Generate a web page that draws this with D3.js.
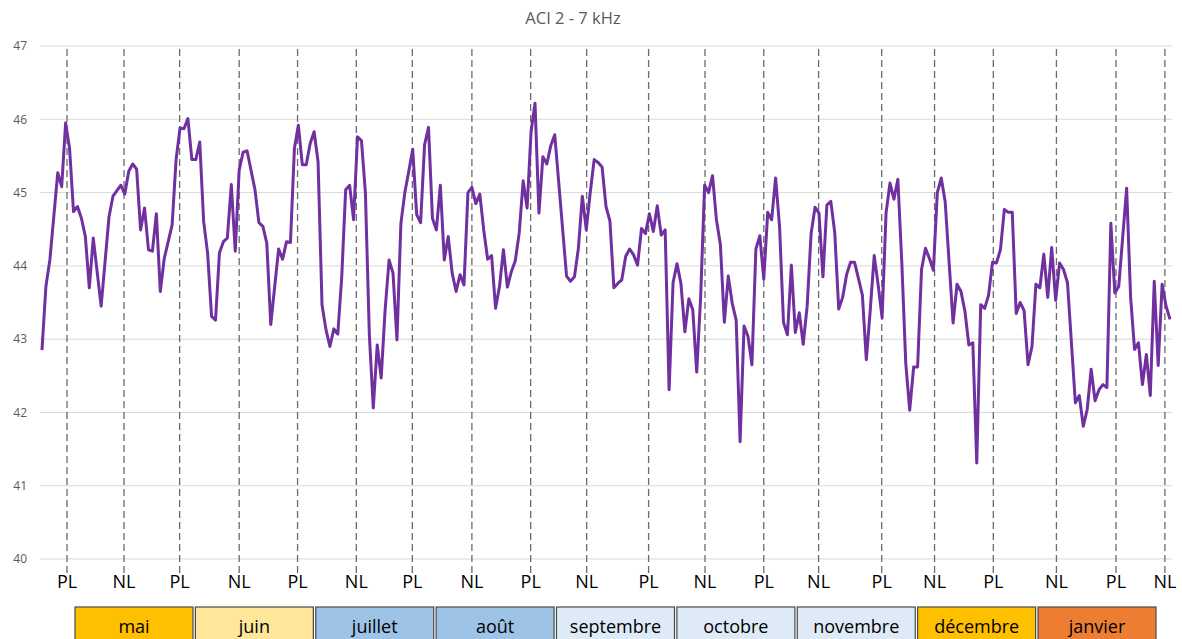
<!DOCTYPE html>
<html>
<head>
<meta charset="utf-8">
<script src="https://cdn.jsdelivr.net/npm/d3@7/dist/d3.min.js"></script>
<style>
  html, body { margin: 0; padding: 0; background: #ffffff; }
  svg { display: block; }
</style>
</head>
<body>
<svg id="chart" width="1182" height="639"></svg>
<script>
// Daily ACI (2 - 7 kHz) values, day 0 = first day of May
const dayIndex = [
  0,1,2,4,5,6,7,8,9,10,11,12,13,15,17,18,20,21,22,23,24,25,26,27,28,29,30,31,33,34,
  35,36,37,38,39,40,41,42,43,44,45,46,47,48,49,50,51,52,54,55,56,57,58,60,61,62,63,64,65,66,
  67,68,69,70,71,72,73,74,75,76,77,78,79,80,81,82,83,84,85,86,87,88,89,90,91,92,93,94,95,96,
  97,98,99,100,101,102,103,104,105,106,107,108,109,110,111,112,113,114,115,116,117,118,119,120,121,122,123,124,125,126,
  127,128,129,130,133,134,135,136,137,138,139,140,141,142,143,144,145,146,147,148,149,150,151,152,153,154,155,156,157,158,
  159,160,161,162,163,164,165,166,167,168,169,170,171,172,173,174,175,176,177,178,179,180,181,182,183,184,185,186,187,188,
  189,190,191,192,193,194,195,196,197,198,199,200,201,202,203,204,205,206,207,208,209,210,211,212,213,214,215,216,217,218,
  219,220,221,222,223,224,225,226,227,228,229,230,231,232,233,234,235,236,237,238,239,240,241,242,243,244,245,246,247,248,
  249,250,251,252,253,254,255,256,257,258,259,260,262,263,264,265,266,267,268,269,270,271,272,273,275,276,277,278,279,280,
  281,282,283,284,285,286
];
const aciValues = [
  42.85,43.72,44.08,45.27,45.08,45.95,45.60,44.74,44.81,44.65,44.40,43.70,44.38,43.45,44.67,44.95,45.10,44.98,45.29,45.39,45.32,44.49,44.79,44.22,44.20,44.71,43.65,44.10,44.56,45.45,
  45.88,45.87,46.01,45.45,45.45,45.69,44.60,44.17,43.31,43.26,44.18,44.33,44.38,45.11,44.20,45.31,45.55,45.57,45.04,44.59,44.54,44.31,43.20,44.23,44.09,44.33,44.32,45.60,45.92,45.38,
  45.38,45.67,45.83,45.42,43.47,43.13,42.90,43.14,43.07,43.85,45.04,45.10,44.63,45.76,45.71,45.00,43.06,42.06,42.92,42.47,43.40,44.08,43.90,42.99,44.58,45.00,45.29,45.59,44.70,44.59,
  45.65,45.89,44.65,44.49,45.10,44.08,44.40,43.90,43.65,43.88,43.74,45.00,45.07,44.85,44.98,44.49,44.09,44.14,43.42,43.72,44.22,43.71,43.92,44.07,44.45,45.16,44.79,45.83,46.22,44.72,
  45.49,45.39,45.64,45.79,43.86,43.79,43.85,44.24,44.95,44.49,45.00,45.45,45.41,45.35,44.81,44.61,43.70,43.76,43.81,44.13,44.23,44.15,44.01,44.51,44.44,44.71,44.47,44.82,44.42,44.49,
  42.31,43.77,44.03,43.76,43.10,43.55,43.40,42.55,43.58,45.10,45.00,45.23,44.63,44.29,43.23,43.86,43.49,43.26,41.60,43.18,43.04,42.65,44.23,44.41,43.82,44.73,44.63,45.20,44.54,43.23,
  43.06,44.01,43.09,43.36,42.93,43.45,44.44,44.80,44.72,43.85,44.83,44.88,44.45,43.41,43.57,43.88,44.05,44.05,43.83,43.60,42.72,43.40,44.14,43.74,43.29,44.72,45.13,44.91,45.18,44.04,
  42.67,42.03,42.62,42.62,43.95,44.24,44.10,43.94,45.00,45.20,44.87,44.04,43.22,43.75,43.65,43.38,42.92,42.95,41.31,43.47,43.42,43.60,44.05,44.04,44.22,44.77,44.73,44.73,43.35,43.50,
  43.39,42.65,42.90,43.75,43.70,44.16,43.57,44.25,43.53,44.04,43.95,43.77,42.13,42.23,41.81,42.04,42.59,42.16,42.31,42.38,42.34,44.58,43.63,43.72,45.06,43.58,42.86,42.95,42.38,42.79,
  42.23,43.79,42.64,43.75,43.45,43.27
];

// Moon phases (PL = pleine lune, NL = nouvelle lune), in days from the start
const phaseLabels = ["PL","NL","PL","NL","PL","NL","PL","NL","PL","NL","PL","NL","PL","NL","PL","NL","PL","NL","PL","NL"];
const phaseDays = [6.35,20.8,34.9,50.0,64.8,79.7,93.9,109.0,123.9,138.1,153.8,168.1,183.0,196.9,212.9,226.3,241.2,257.2,272.3,284.7];

// Months shown under the axis
const months = ["mai","juin","juillet","août","septembre","octobre","novembre","décembre","janvier"];
const monthColors = ["#FFC000","#FFE699","#9DC3E6","#9DC3E6","#DEEBF7","#DEEBF7","#DEEBF7","#FFC000","#ED7D31"];

const yTicks = [40,41,42,43,44,45,46,47];
const title = "ACI 2 - 7 kHz";

const svg = d3.select("#chart");
const plot = { left: 40, right: 1172, top: 46, bottom: 559 };
const FONT = "'Open Sans', 'Noto Sans', sans-serif";

const x = d3.scaleLinear()
  .domain([-0.5, d3.max(dayIndex) + 0.5])
  .range([plot.left, plot.right]);
const y = d3.scaleLinear()
  .domain([40, 47])
  .range([plot.bottom, plot.top]);

// Title
svg.append("text")
  .attr("x", 573).attr("y", 24)
  .attr("text-anchor", "middle")
  .attr("font-family", FONT)
  .attr("font-size", 16.5)
  .attr("fill", "#595959")
  .text(title);

// Horizontal gridlines
svg.append("g").selectAll("line")
  .data(yTicks).join("line")
  .attr("x1", plot.left).attr("x2", plot.right)
  .attr("y1", d => y(d)).attr("y2", d => y(d))
  .attr("stroke", "#d9d9d9").attr("stroke-width", 1);

// Y axis labels
const yAxis = d3.axisLeft(y).tickValues(yTicks).tickSize(0).tickPadding(0).tickFormat(d3.format("d"));
const gy = svg.append("g").attr("transform", `translate(${plot.left - 13},0)`).call(yAxis);
gy.select(".domain").remove();
gy.selectAll("text")
  .attr("font-family", FONT)
  .attr("font-size", 12)
  .attr("fill", "#595959");

// Moon phase dashed lines
svg.append("g").selectAll("line")
  .data(phaseDays).join("line")
  .attr("x1", d => x(d)).attr("x2", d => x(d))
  .attr("y1", plot.top + 3).attr("y2", 573)
  .attr("stroke", "#6b6b6b")
  .attr("stroke-width", 1.3)
  .attr("stroke-dasharray", "7,4");

// Moon phase labels
svg.append("g").selectAll("text")
  .data(phaseDays).join("text")
  .attr("x", d => x(d))
  .attr("y", 588)
  .attr("text-anchor", "middle")
  .attr("font-family", FONT)
  .attr("font-size", 18)
  .attr("fill", "#000")
  .text((d, i) => phaseLabels[i]);

// Data line
const series = dayIndex.map((d, i) => ({ day: d, value: aciValues[i] }));
const line = d3.line().x(d => x(d.day)).y(d => y(d.value));
svg.append("path")
  .datum(series)
  .attr("d", line)
  .attr("fill", "none")
  .attr("stroke", "#7030A0")
  .attr("stroke-width", 3)
  .attr("stroke-linejoin", "round");

// Month boxes
const mx = d3.scaleBand().domain(months).range([75, 1156]).paddingInner(0.02);
const mg = svg.append("g").selectAll("g").data(months).join("g")
  .attr("transform", d => `translate(${mx(d)},607)`);
mg.append("rect")
  .attr("width", mx.bandwidth())
  .attr("height", 45)
  .attr("fill", (d, i) => monthColors[i])
  .attr("stroke", "#4a4a4a")
  .attr("stroke-width", 1.2);
mg.append("text")
  .attr("x", mx.bandwidth() / 2)
  .attr("y", 25.5)
  .attr("text-anchor", "middle")
  .attr("font-family", FONT)
  .attr("font-size", 18)
  .attr("fill", "#000")
  .text(d => d);
</script>
</body>
</html>
